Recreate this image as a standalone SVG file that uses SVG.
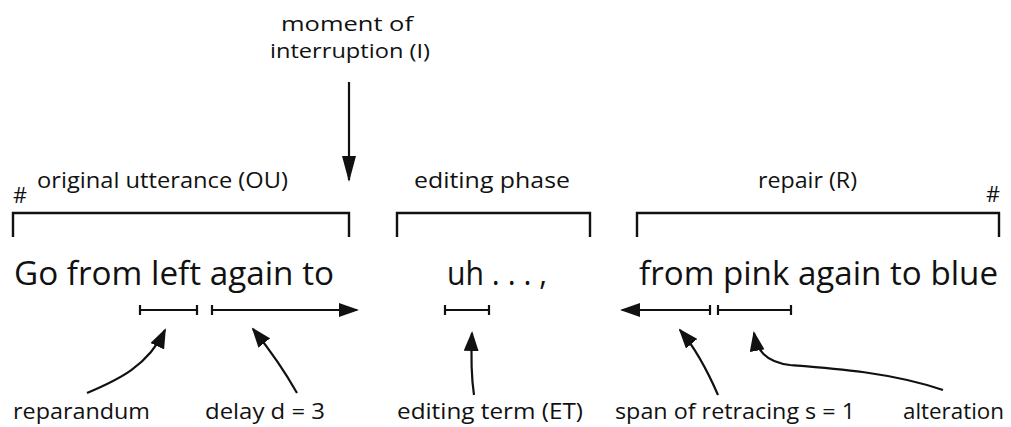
<svg xmlns="http://www.w3.org/2000/svg" width="1011" height="427" viewBox="0 0 1011 427">
<defs>
<style>
text{font-family:"Open Sans","Noto Sans","Liberation Sans",sans-serif;fill:#111;}
.lbl{font-size:21px;}
.top{font-size:20px;}
.big{font-size:32.5px;}
.ln{stroke:#111;stroke-width:2.2;fill:none;}
.br{stroke:#111;stroke-width:2.4;fill:none;}
</style>
<marker id="ah" viewBox="0 0 20 14" refX="18" refY="7" markerWidth="20" markerHeight="14" markerUnits="userSpaceOnUse" orient="auto">
<path d="M0,0 L20,7 L0,14 z" fill="#111"/>
</marker>
<marker id="ahBig" viewBox="0 0 26 14" refX="24" refY="7" markerWidth="26" markerHeight="14" markerUnits="userSpaceOnUse" orient="auto">
<path d="M0,0 L26,7 L0,14 z" fill="#111"/>
</marker>
<marker id="ahC" viewBox="0 0 20 15" refX="18" refY="7.5" markerWidth="20" markerHeight="15" markerUnits="userSpaceOnUse" orient="auto">
<path d="M0,0 L20,7.5 L0,15 z" fill="#111"/>
</marker>
</defs>

<g id="interruption">
<text class="top" x="347" y="31" text-anchor="middle" textLength="132" lengthAdjust="spacingAndGlyphs">moment of</text>
<text class="top" x="350" y="58" text-anchor="middle" textLength="160" lengthAdjust="spacingAndGlyphs">interruption (I)</text>
</g>

<g id="original-utterance">
<text class="lbl" x="13" y="203" textLength="14" lengthAdjust="spacingAndGlyphs">#</text>
<text class="lbl" x="37" y="188" textLength="251" lengthAdjust="spacingAndGlyphs">original utterance (OU)</text>
<path class="br" d="M13,237 V213 H349 V237"/>
<text class="big" x="14" y="285" textLength="320" lengthAdjust="spacingAndGlyphs">Go from left again to</text>
</g>

<g id="editing-phase">
<text class="lbl" x="414" y="188" textLength="156" lengthAdjust="spacingAndGlyphs">editing phase</text>
<path class="br" d="M397,237 V213 H590 V237"/>
<text class="big" x="447" y="285" textLength="100" lengthAdjust="spacingAndGlyphs">uh . . . ,</text>
</g>

<g id="repair">
<text class="lbl" x="758" y="188" textLength="99" lengthAdjust="spacingAndGlyphs">repair (R)</text>
<text class="lbl" x="986" y="202" textLength="14" lengthAdjust="spacingAndGlyphs">#</text>
<path class="br" d="M637,237 V213 H999 V237"/>
<text class="big" x="639" y="285" textLength="359" lengthAdjust="spacingAndGlyphs">from pink again to blue</text>
</g>

<g id="reparandum">
<text class="lbl" x="13" y="419" textLength="137" lengthAdjust="spacingAndGlyphs">reparandum</text>
</g>
<g id="delay">
<text class="lbl" x="205" y="419" textLength="120" lengthAdjust="spacingAndGlyphs">delay d = 3</text>
</g>
<g id="editing-term">
<text class="lbl" x="397" y="419" textLength="186" lengthAdjust="spacingAndGlyphs">editing term (ET)</text>
</g>
<g id="span-of-retracing">
<text class="lbl" x="615" y="419" textLength="240" lengthAdjust="spacingAndGlyphs">span of retracing s = 1</text>
</g>
<g id="alteration">
<text class="lbl" x="903" y="419" textLength="101" lengthAdjust="spacingAndGlyphs">alteration</text>
</g>

<g id="connectors">
<line class="ln" x1="349" y1="82" x2="349" y2="180" stroke-width="2.6" marker-end="url(#ahBig)"/>
<path class="ln" d="M140,310 H197 M140,305 V315 M197,305 V315"/>
<path class="ln" d="M212,305 V315"/>
<line class="ln" x1="212" y1="310" x2="357" y2="310" marker-end="url(#ah)"/>
<path class="ln" d="M445,310 H489 M445,305 V315 M489,305 V315"/>
<path class="ln" d="M710,305 V315"/>
<line class="ln" x1="710" y1="310" x2="622" y2="310" marker-end="url(#ah)"/>
<path class="ln" d="M718,310 H791 M718,305 V315 M791,305 V315"/>
<path class="ln" d="M87,393 C118,380 148,366 165,330" marker-end="url(#ahC)"/>
<path class="ln" d="M297,393 C284,370 270,350 253,329" marker-end="url(#ahC)"/>
<path class="ln" d="M474,395 C471,375 471,355 472,333" marker-end="url(#ahC)"/>
<path class="ln" d="M718,395 C708,372 697,350 680,330" marker-end="url(#ahC)"/>
<path class="ln" d="M943,390 C890,372 830,368 790,365 C765,362 757,350 754,333" marker-end="url(#ahC)"/>
</g>
</svg>
